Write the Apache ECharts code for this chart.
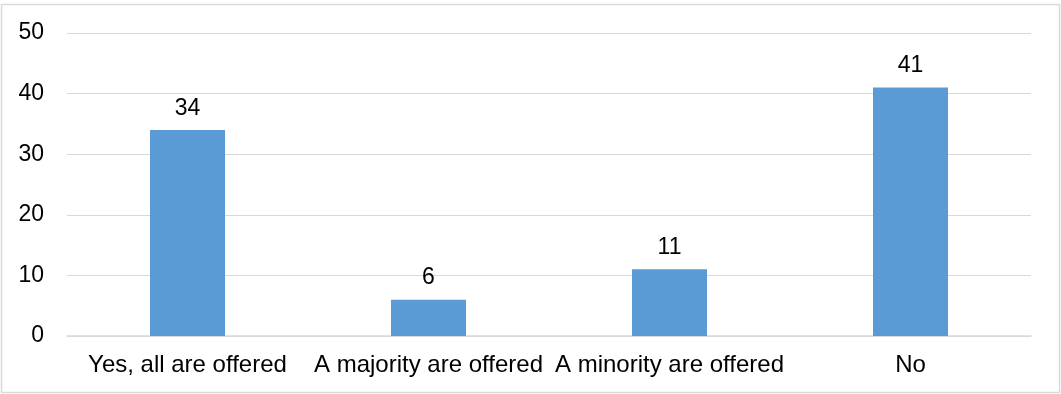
<!DOCTYPE html>
<html>
<head>
<meta charset="utf-8">
<script src="https://cdn.jsdelivr.net/npm/echarts@6/dist/echarts.min.js"></script>
<style>
  html, body { margin: 0; padding: 0; background: #fff; }
  #chart { width: 1061px; height: 394px; }
</style>
</head>
<body>
<div id="chart"></div>
<script>
// Responses per answer option
const categories = ['Yes, all are offered', 'A majority are offered', 'A minority are offered', 'No'];
const counts = [34, 6, 11, 41];
const yTicks = { min: 0, max: 50, interval: 10 };

const chart = echarts.init(document.getElementById('chart'), null, { renderer: 'canvas' });
const font = 'Liberation Sans, Arial, sans-serif';

chart.setOption({
  animation: false,
  graphic: [{
    type: 'rect',
    shape: { x: 1.5, y: 4.5, width: 1058, height: 388 },
    style: { fill: 'none', stroke: '#d9d9d9', lineWidth: 1.5 },
    silent: true
  }],
  grid: { left: 67, right: 30, top: 33, bottom: 58, containLabel: false },
  xAxis: {
    type: 'category',
    data: categories,
    axisLine: { show: true, lineStyle: { color: '#d9d9d9', width: 1.5 } },
    axisTick: { show: false },
    axisLabel: { color: '#000', fontFamily: font, fontSize: 24, margin: 17, interval: 0 }
  },
  yAxis: {
    type: 'value',
    min: yTicks.min,
    max: yTicks.max,
    interval: yTicks.interval,
    axisLine: { show: false },
    axisTick: { show: false },
    splitLine: { lineStyle: { color: '#d9d9d9', width: 1 } },
    axisLabel: { color: '#000', fontFamily: font, fontSize: 23, margin: 23 }
  },
  series: [{
    type: 'bar',
    data: counts,
    barWidth: 75,
    itemStyle: { color: '#5b9bd5' },
    label: {
      show: true,
      position: 'top',
      distance: 10,
      color: '#000',
      fontFamily: font,
      fontSize: 23
    }
  }]
});
</script>
</body>
</html>
